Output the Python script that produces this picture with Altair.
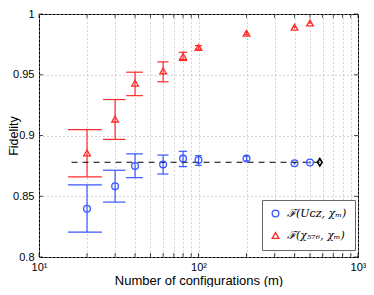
import altair as alt
import pandas as pd

# ---- data ----
m = [20, 30, 40, 60, 80, 100, 200, 400, 500]
f_ucz = [0.8397, 0.8582, 0.8749, 0.8762, 0.8810, 0.8799, 0.8810, 0.8772, 0.8778]
f_ucz_lo = [0.8204, 0.8452, 0.8653, 0.8683, 0.8744, 0.8754, 0.8792, 0.8765, 0.8772]
f_ucz_hi = [0.8593, 0.8714, 0.8849, 0.8839, 0.8870, 0.8834, 0.8828, 0.8779, 0.8784]
f_chi = [0.8857, 0.9135, 0.9431, 0.9532, 0.9651, 0.9725, 0.9841, 0.9891, 0.9926]
f_chi_lo = [0.8660, 0.8968, 0.9328, 0.9442, 0.9617, 0.9710, 0.9830, 0.9886, 0.9922]
f_chi_hi = [0.9048, 0.9296, 0.9521, 0.9606, 0.9685, 0.9740, 0.9852, 0.9896, 0.9930]
labels = ["ℱ(Uᴄᴢ, χₘ)", "ℱ(χ₅₇₆, χₘ)"]
ref_m = [16, 576]
ref_f = [0.878, 0.878]
diamond_m = [576]
diamond_f = [0.878]
x_ticks = [10, 20, 30, 40, 50, 60, 70, 80, 90, 100, 200, 300, 400, 500, 600, 700, 800, 900, 1000]
y_ticks = [0.8, 0.85, 0.9, 0.95, 1.0]

blue = "#3a55ff"
red = "#ff2a2a"

tee = (max(m) - min(m)) / 100.0
rows = []
for name, f, lo, hi in [(labels[0], f_ucz, f_ucz_lo, f_ucz_hi), (labels[1], f_chi, f_chi_lo, f_chi_hi)]:
    for mi, fi, l, h in zip(m, f, lo, hi):
        rows.append(dict(m=mi, f=fi, lo=l, hi=h, xl=mi - tee, xr=mi + tee, series=name))
df = pd.DataFrame(rows)

W, H = 319, 243

xscale = alt.Scale(type="log", domain=[10, 1000], nice=False)
yscale = alt.Scale(domain=[0.8, 1.0], nice=False, zero=False)
cscale = alt.Scale(domain=labels, range=[blue, red])
sscale = alt.Scale(domain=labels, range=["circle", "triangle-up"])

label_expr = ("datum.value == 10 ? '10¹' : datum.value == 100 ? '10²' : "
              "datum.value == 1000 ? '10³' : ''")

xaxis = alt.Axis(values=x_ticks, labelExpr=label_expr, title="Number of configurations (m)",
                 grid=True, gridDash=[1, 3], gridColor="#aaaaaa", ticks=False, domain=False,
                 labelFlush=False, labelOverlap=False, labelPadding=4, titlePadding=2)
yaxis = alt.Axis(values=y_ticks, format="~g", title="Fidelity", grid=True, gridDash=[1, 3],
                 gridColor="#aaaaaa", ticks=False, domain=False, labelPadding=5,
                 titleX=-26, titleY=H / 2, titleAngle=270, titleAlign="center",
                 titleBaseline="middle")

legend = alt.Legend(title=None, orient="none", legendX=223, legendY=186,
                    fillColor="white", strokeColor="#666666", padding=8, rowPadding=9,
                    labelFont="DejaVu Serif", labelFontSize=11, labelFontStyle="italic",
                    labelColor="black", symbolSize=45, symbolStrokeWidth=1.3, labelOffset=6)

base = alt.Chart(df)

bars = base.mark_rule(strokeWidth=1.2).encode(
    x=alt.X("m:Q", scale=xscale, axis=xaxis),
    y=alt.Y("lo:Q", scale=yscale, axis=yaxis),
    y2="hi:Q",
    color=alt.Color("series:N", scale=cscale),
)
cap_lo = base.mark_rule(strokeWidth=1.2).encode(
    x=alt.X("xl:Q", scale=xscale), x2="xr:Q",
    y=alt.Y("lo:Q", scale=yscale),
    color=alt.Color("series:N", scale=cscale),
)
cap_hi = base.mark_rule(strokeWidth=1.2).encode(
    x=alt.X("xl:Q", scale=xscale), x2="xr:Q",
    y=alt.Y("hi:Q", scale=yscale),
    color=alt.Color("series:N", scale=cscale),
)

points = base.mark_point(filled=False, size=45, strokeWidth=1.3, opacity=1).encode(
    x=alt.X("m:Q", scale=xscale),
    y=alt.Y("f:Q", scale=yscale),
    color=alt.Color("series:N", scale=cscale, legend=legend),
    shape=alt.Shape("series:N", scale=sscale, legend=legend),
)

ref = alt.Chart(pd.DataFrame({"m": [ref_m[0]], "m2": [ref_m[1]], "f": [ref_f[0]]})).mark_rule(
    color="black", strokeDash=[6, 5], strokeWidth=1.1).encode(
    x=alt.X("m:Q", scale=xscale), x2="m2:Q", y=alt.Y("f:Q", scale=yscale))

diamond = alt.Chart(pd.DataFrame({"m": diamond_m, "f": diamond_f})).mark_point(
    shape="M0,-1L0.62,0L0,1L-0.62,0Z", filled=False, color="black", size=55, strokeWidth=1.6,
    opacity=1).encode(x=alt.X("m:Q", scale=xscale), y=alt.Y("f:Q", scale=yscale))

xt = pd.DataFrame({"m": x_ticks})
yt = pd.DataFrame({"f": y_ticks})
tick_bottom = alt.Chart(xt).mark_tick(orient="vertical", size=4, thickness=1, color="black",
                                      yOffset=-2).encode(
    x=alt.X("m:Q", scale=xscale), y=alt.datum(0.8, scale=yscale))
tick_top = alt.Chart(xt).mark_tick(orient="vertical", size=4, thickness=1, color="black",
                                   yOffset=2).encode(
    x=alt.X("m:Q", scale=xscale), y=alt.datum(1.0))
tick_left = alt.Chart(yt).mark_tick(orient="horizontal", size=4, thickness=1, color="black",
                                    xOffset=2).encode(
    y=alt.Y("f:Q", scale=yscale), x=alt.datum(10))
tick_right = alt.Chart(yt).mark_tick(orient="horizontal", size=4, thickness=1, color="black",
                                     xOffset=-2).encode(
    y=alt.Y("f:Q", scale=yscale), x=alt.datum(1000))

chart = alt.layer(bars, cap_lo, cap_hi, ref, points, diamond,
                  tick_bottom, tick_top, tick_left, tick_right).properties(
    width=W, height=H,
    autosize=alt.AutoSizeParams(type="none"),
    padding={"left": 31, "top": 6, "right": 8, "bottom": 30},
).configure_view(stroke="black", strokeWidth=1).configure_axis(
    labelFont="Liberation Sans", labelFontSize=11, labelColor="black",
    titleFont="Liberation Sans", titleFontSize=13, titleFontWeight="normal", titleColor="black",
).configure_axisY(titleFontSize=12.5)

chart.save("out.html", embed_options={"renderer": "svg", "actions": False})
